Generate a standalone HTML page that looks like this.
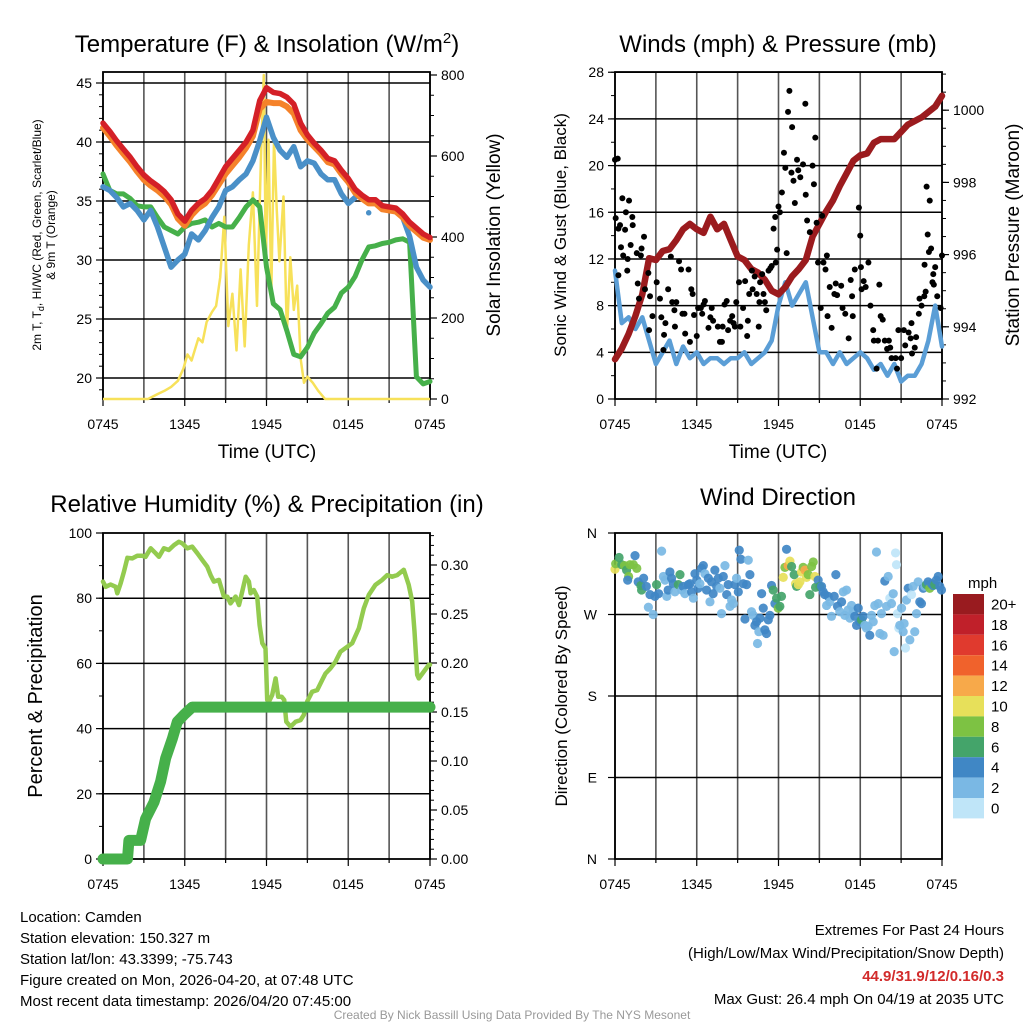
<!DOCTYPE html>
<html><head><meta charset="utf-8">
<style>
body{margin:0;background:#fff;}
svg{display:block;font-family:"Liberation Sans",Arial,sans-serif;}
</style></head>
<body>
<svg id="fig" width="1024" height="1024" viewBox="0 0 1024 1024" xmlns="http://www.w3.org/2000/svg">
<rect x="0" y="0" width="1024" height="1024" fill="#fff"/>
<text x="267" y="52" font-size="24" text-anchor="middle">Temperature (F) &amp; Insolation (W/m<tspan dy="-9" font-size="15">2</tspan><tspan dy="9">)</tspan></text>
<text x="778" y="52" font-size="24" text-anchor="middle">Winds (mph) &amp; Pressure (mb)</text>
<text x="267" y="512" font-size="24" text-anchor="middle">Relative Humidity (%) &amp; Precipitation (in)</text>
<text x="778" y="505" font-size="24" text-anchor="middle">Wind Direction</text>
<text x="267" y="458" font-size="19" text-anchor="middle">Time (UTC)</text>
<text x="778" y="458" font-size="19" text-anchor="middle">Time (UTC)</text>
<text transform="translate(41,235) rotate(-90)" font-size="12" text-anchor="middle">2m T, T<tspan dy="3" font-size="9">d</tspan><tspan dy="-3">, HI/WC (Red, Green, Scarlet/Blue)</tspan></text>
<text transform="translate(55,235) rotate(-90)" font-size="12" text-anchor="middle">&amp; 9m T (Orange)</text>
<text transform="translate(500,235) rotate(-90)" font-size="19" text-anchor="middle">Solar Insolation (Yellow)</text>
<text transform="translate(566,235) rotate(-90)" font-size="17" text-anchor="middle">Sonic Wind &amp; Gust (Blue, Black)</text>
<text transform="translate(1019,235) rotate(-90)" font-size="19" text-anchor="middle">Station Pressure (Maroon)</text>
<text transform="translate(42,696) rotate(-90)" font-size="20" text-anchor="middle">Percent &amp; Precipitation</text>
<text transform="translate(567,696) rotate(-90)" font-size="17" text-anchor="middle">Direction (Colored By Speed)</text>
<text x="968" y="588" font-size="15">mph</text>
<g font-size="15">
<text x="20" y="922">Location: Camden</text>
<text x="20" y="943">Station elevation: 150.327 m</text>
<text x="20" y="964">Station lat/lon: 43.3399; -75.743</text>
<text x="20" y="985">Figure created on Mon, 2026-04-20, at 07:48 UTC</text>
<text x="20" y="1006">Most recent data timestamp: 2026/04/20 07:45:00</text>
</g>
<g font-size="15" text-anchor="end">
<text x="1004" y="935">Extremes For Past 24 Hours</text>
<text x="1004" y="958">(High/Low/Max Wind/Precipitation/Snow Depth)</text>
<text x="1004" y="981" fill="#d22b2b" font-weight="bold">44.9/31.9/12/0.16/0.3</text>
<text x="1004" y="1004">Max Gust: 26.4 mph On 04/19 at 2035 UTC</text>
</g>
<text x="512" y="1019" font-size="12" fill="#999" text-anchor="middle">Created By Nick Bassill Using Data Provided By The NYS Mesonet</text>
</svg>
<script>
// ---- data (time in hours since 0745 UTC) ----
const halfHours = [0,0.5,1,1.5,2,2.5,3,3.5,4,4.5,5,5.5,6,6.5,7,7.5,8,8.5,9,9.5,10,10.5,11,11.5,12,12.5,13,13.5,14,14.5,15,15.5,16,16.5,17,17.5,18,18.5,19,19.5,20,20.5,21,21.5,22,22.5,23,23.5,24];
const tempRed = [41.6,40.9,40.1,39.4,38.7,37.9,37.2,36.7,36.3,35.8,35.1,33.9,33.3,34.2,34.8,35.2,35.9,36.9,37.9,38.6,39.3,40.0,41.0,43.5,44.6,44.2,44.1,43.8,43.2,41.6,40.6,39.9,39.3,38.6,38.4,37.6,36.9,36.0,35.5,35.1,35.1,34.6,34.5,34.4,33.9,33.2,32.7,32.2,31.9];
const temp9mOrange = [41.2,40.5,39.7,39.0,38.3,37.5,36.8,36.3,35.9,35.4,34.7,33.5,32.9,33.8,34.4,34.8,35.5,36.4,37.3,38.0,38.7,39.5,40.5,42.8,43.4,43.3,43.3,43.0,42.4,41.0,40.2,39.6,39.0,38.3,38.1,37.3,36.6,35.7,35.2,34.8,34.8,34.3,34.2,34.1,33.6,32.9,32.4,31.9,31.7];
const windChillBlue = [36.2,35.9,35.3,34.5,34.8,34.2,33.4,34.2,32.8,31.1,29.4,30.0,30.5,32.2,31.7,32.5,33.6,34.5,35.9,36.2,36.8,37.3,38.4,40.1,42.1,40.4,39.3,38.7,39.6,37.9,38.4,38.2,37.3,36.8,36.8,35.6,34.8,35.3,null,34.0,null,null,null,null,33.6,32.0,29.4,28.3,27.7];
const dewpointGreen = [37.3,35.9,35.6,35.6,35.2,34.6,34.5,34.5,33.6,32.8,32.5,32.2,32.8,33.1,33.2,33.4,32.8,33.1,32.8,32.8,33.6,34.5,35.1,34.5,29.4,26.3,25.8,24.0,22.0,21.8,22.6,23.8,24.6,25.5,26.0,27.2,27.7,28.6,30.0,31.1,31.2,31.4,31.5,31.7,31.8,31.5,20.1,19.5,19.7];
const solarTimes = [0,3.3,4,4.5,5,5.5,5.9,6.2,6.5,7,7.3,7.6,8,8.3,8.6,8.9,9.2,9.5,9.8,10.1,10.4,10.7,11,11.3,11.6,11.8,11.95,12.15,12.35,12.55,12.75,12.95,13.25,13.5,13.75,14.0,14.25,14.5,14.75,15,15.4,15.8,16.3,24];
const solarValues = [0,0,12,20,30,45,75,110,95,150,140,190,215,230,300,450,180,260,120,320,130,380,510,230,600,800,340,640,260,640,470,340,500,160,350,220,280,100,40,55,40,20,0,0];
const windSpeed = [11,6.5,7,6,7,5,3,4,5,3,4.5,3.5,4,3,3.5,3.5,3,3.5,3.5,4,3,3.5,4,5,8,10,8,9,10,7,4,4,3,4,3,3.5,4,3.5,2.5,3,2,3,1.5,2,2,3,5,8,4.5];
const pressure = [993.1,993.4,993.8,994.3,994.9,995.9,995.85,996.1,996.15,996.4,996.7,996.85,996.7,996.6,997.05,996.7,996.85,996.4,995.95,995.85,995.6,995.5,995.3,995.0,994.9,995.1,995.4,995.6,995.85,996.5,996.85,997.2,997.5,997.9,998.25,998.6,998.75,998.8,999.1,999.2,999.2,999.2,999.4,999.6,999.7,999.8,999.95,1000.1,1000.4];
const gustTimes = [0,0.2,0.05,0.25,0.37,0.54,0.74,0.8,1.03,1.27,1.3,0.25,0.44,0.6,0.93,0.9,1.15,1.6,1.9,1.95,2.13,1.67,1.76,2.2,2.45,2.57,2.75,2.5,3.06,3.3,3.4,3.55,3.6,3.7,3.9,4.1,4.2,4.36,4.4,4.5,4.7,4.85,4.95,5.1,5.15,5.4,5.5,5.6,5.7,5.8,6.0,6.1,6.3,6.4,6.5,6.6,6.86,7.0,7.1,7.2,7.55,7.7,7.85,7.9,8.04,8.2,8.3,8.45,8.6,8.7,8.8,8.9,9.1,9.2,9.4,9.55,9.7,9.75,9.85,10.05,10.1,10.25,10.4,10.55,10.6,10.65,10.8,10.9,11.0,11.1,11.27,11.4,11.5,11.64,11.76,11.8,11.9,12.0,12.1,12.25,12.4,12.5,12.6,12.7,12.8,13.0,12.95,13.1,13.2,13.36,13.45,13.6,13.8,13.97,14.0,14.1,14.3,14.5,14.6,14.7,14.8,14.9,15.2,15.1,15.3,15.45,15.55,15.6,15.76,15.9,16.1,16.2,16.3,16.6,16.7,16.9,17.15,17.3,17.4,17.45,17.6,17.9,18.0,18.05,18.1,18.25,18.4,18.6,18.75,18.95,19.0,19.2,19.3,19.4,19.5,19.65,19.8,19.97,20.1,20.2,20.3,20.6,20.7,20.8,21.0,21.2,21.3,21.55,21.7,21.76,21.8,22.0,22.1,22.3,22.35,22.5,22.7,22.72,22.8,22.87,22.95,23.04,23.1,23.2,23.3,23.36,23.4,23.5,23.65,23.9,24.0];
const gustValues = [20.5,20.6,15.5,14.6,14.9,17.2,14.5,16,17,15.6,14.9,10.6,13,12.3,12,11,13.2,12.5,12.3,12.9,13.9,9.9,8.6,9.4,10.8,8.8,7.1,5.9,10,8.6,7.0,4.2,5.5,6.5,9.4,12.2,8.3,7.6,6.2,8.3,11.8,11.1,7.3,7.3,5.6,11.1,4.9,9.4,9,7.2,5.4,7.8,7.8,7.3,8.1,8.4,6.1,7,7.8,6.7,6.2,4.9,4.9,6.2,8.1,8.4,5.9,6.7,7.1,6.5,6.2,8.3,10,6.2,7.8,10.1,5.4,6.7,9,11,9.4,10.5,9,6.2,8.3,10,10.7,9,8.3,7.6,11,11.2,11.4,14.6,15.6,11.7,12.8,16.5,16,17.7,21.1,19.8,12.5,24.6,26.4,23.3,19.4,18.7,16.8,20.5,19.6,19,20.1,25.3,17.5,15.3,14.3,20,18.4,22.4,15.1,11.7,15.7,7.8,11.7,11.1,12.3,7.1,9.6,6.1,9,9.9,8.9,9.7,7.8,7.3,5.2,10.2,8.8,7.1,11.1,16.4,14,11.3,9.4,10.1,9.6,11.7,8,5.9,5,2.6,5,9.8,7.1,6.8,5,4.3,5,4.4,3.5,3.5,2.6,5.9,3.5,5.9,4.6,5.7,5.2,6.5,3.9,4.4,5.3,7.3,8.6,8.0,8.8,11.5,9.2,18.2,14.1,12.6,17,12.9,10,10.7,9.8,11.3,8.8,7.8,12.3];
const rhTimes = [0,0.2,0.56,0.93,1.05,1.3,1.54,1.79,2.15,2.52,2.89,3.13,3.5,3.86,4.11,4.47,4.83,5.21,5.57,5.82,6.19,6.55,6.92,7.29,7.65,7.9,8.14,8.51,8.87,9.12,9.36,9.73,9.98,10.22,10.47,10.71,10.83,11.07,11.32,11.49,11.69,11.93,12.05,12.18,12.42,12.67,12.86,13.11,13.3,13.45,13.77,14.13,14.5,14.74,14.99,15.35,15.72,16.09,16.33,16.7,17.06,17.43,17.92,18.29,18.78,19.14,19.51,20,20.49,20.86,21.22,21.59,22.08,22.44,22.69,22.86,23.06,23.18,23.55,23.92,24];
const rhValues = [85.1,83.5,84.2,83.5,81.5,84.6,88.2,92.4,92.2,93,93,92.7,95.3,93.8,92.7,95.3,94.8,96.3,97.3,96.8,95.3,95.8,93.8,91.7,89.7,87.1,85.1,85.6,80.5,80.5,78.4,80.5,77.9,82,86.6,85.1,81.5,82.5,80.5,71.8,66.2,64.6,48.8,48.3,50.3,55.4,49.8,49.8,48.8,42.1,40.6,42.1,42.6,44.2,48.3,51.3,51.8,54.9,56.9,58.5,60.5,63.6,65.1,66.2,70.8,76.9,81,84.1,85.6,87.1,86.6,87.1,88.7,84.1,79,69.8,56.5,55.4,57.5,59.6,59.6];
const precipTimes = [0,1.8,1.9,2.76,3.13,3.74,4.23,4.6,5.09,5.45,5.94,6.55,24];
const precipValues = [0,0,0.019,0.019,0.041,0.058,0.079,0.103,0.123,0.140,0.147,0.155,0.155];
const dirTimes = [0,0.05,0.3,0.5,0.7,0.85,1.0,1.1,1.35,1.47,1.6,0.93,1.7,1.9,2.1,1.95,2.3,2.45,2.57,2.8,2.93,3.05,3.2,3.42,3.55,3.67,3.8,3.9,4.03,4.15,4.28,4.4,4.65,4.77,4.9,5.0,5.13,5.38,5.5,5.62,5.75,5.87,6.0,6.1,6.23,6.36,6.48,6.6,6.72,6.85,6.97,7.09,7.2,7.33,7.46,7.58,7.7,7.82,7.95,8.07,8.2,8.31,8.44,8.56,8.68,8.8,8.92,9.05,9.12,9.24,9.41,9.54,9.66,9.78,9.9,10.02,10.15,10.27,10.39,10.46,10.56,10.64,10.76,10.88,11.0,11.12,11.25,11.37,11.49,11.61,11.74,11.86,11.98,12.1,12.22,12.35,12.47,12.59,12.71,12.84,12.96,13.15,13.25,13.33,13.45,13.57,13.69,13.81,13.94,14.06,14.18,14.3,14.43,14.55,14.67,14.72,14.91,15.04,15.16,15.28,15.4,15.53,15.65,15.77,15.89,16.09,16.21,16.33,16.5,16.63,16.75,16.87,16.99,17.11,17.24,17.36,17.48,17.6,17.73,17.85,17.97,18.09,18.22,18.34,18.46,18.58,18.7,18.83,18.95,19.07,19.19,19.32,19.44,19.56,19.68,19.8,19.93,20.05,20.17,20.29,20.42,20.49,20.59,20.66,20.73,20.83,20.9,21.03,21.15,21.22,21.32,21.39,21.52,21.64,21.76,21.88,22.0,22.13,22.25,22.37,22.49,22.62,22.74,22.86,22.98,23.1,23.23,23.35,23.47,23.59,23.72,23.84,23.96];
const dirDegrees = [320,326,333,325,324,319,312,325,325,335,321,308,306,302,310,297,301,278,292,270,290,303,293,340,312,308,290,297,317,310,304,295,303,314,297,301,293,303,304,295,288,315,308,299,304,321,324,315,297,310,284,306,293,319,301,310,299,271,312,324,292,303,279,286,282,303,310,295,341,331,304,265,303,330,314,273,269,258,262,238,251,266,293,277,253,249,264,269,302,297,282,288,277,279,290,311,322,342,324,329,323,314,304,301,303,306,317,322,319,311,314,292,323,328,312,300,308,301,301,295,292,280,290,284,268,290,314,279,273,284,295,269,297,275,266,280,273,268,258,277,262,264,268,258,255,257,247,269,262,280,339,282,249,271,247,307,279,312,288,282,293,229,338,325,271,255,258,277,251,260,233,286,299,242,292,301,251,271,306,284,282,299,301,303,306,299,304,302,303,308,312,301,297];
const dirSpeeds = [11,9,7,7,9,7,9,9,9,5,9,5,5,7,5,7,5,3,5,3,5,7,5,3,3,3,3,5,5,5,5,3,7,7,3,5,3,5,5,5,3,5,5,5,3,5,5,3,5,5,3,5,5,5,5,5,3,3,5,3,5,5,3,3,3,5,3,5,5,5,5,5,5,3,5,3,3,5,5,3,3,5,5,5,5,5,5,5,5,7,5,7,9,7,7,11,9,5,13,11,7,7,11,7,11,11,11,9,13,11,9,7,9,9,11,7,5,7,5,5,5,3,5,3,3,5,5,5,3,5,3,3,3,3,3,3,3,5,5,5,5,7,5,3,3,3,5,3,3,3,3,3,3,3,3,5,3,3,1,3,3,3,1,1,1,1,3,3,3,3,1,3,5,3,1,3,3,3,3,5,5,5,3,7,5,9,5,5,7,5,5,5,5,5];
const speedBinLabels = ['0','2','4','6','8','10','12','14','16','18','20+'];
const speedColors = ['#bfe5f8','#7ab8e4','#4087c5','#44a46a','#7dc243','#e7e05a','#f7a94a','#f0622c','#e03a2e','#c0202a','#991b1f'];
const timeTickLabels = ['0745','1345','1945','0145','0745'];
const tempTicks = [20,25,30,35,40,45];
const solarTicks = [0,200,400,600,800];
const windTicks = [0,4,8,12,16,20,24,28];
const pressureTicks = [992,994,996,998,1000];
const rhTicks = [0,20,40,60,80,100];
const precipTicks = [0,0.05,0.10,0.15,0.20,0.25,0.30];
const dirTickLabels = ['N','E','S','W','N'];
const dirTickValues = [0,90,180,270,360];

// ---- scales ----
const NS='http://www.w3.org/2000/svg';
const svg=document.getElementById('fig');
const xL = t => 103 + t*327/24;
const xR = t => 615 + t*327/24;
const yTemp = v => 378 - (v-20)*11.8;
const ySolar = w => 399 - w*0.405;
const yWind = m => 399 - m*11.67;
const yPres = p => 399 - (p-992)*36.1;
const yRH = v => 859 - v*3.26;
const yPrecip = p => 859 - p*980;
const yDir = d => 859 - d*326/360;

function el(tag, attrs, parent){
  const e=document.createElementNS(NS,tag);
  for(const k in attrs) e.setAttribute(k,attrs[k]);
  (parent||svg).appendChild(e);
  return e;
}
function pathFrom(ts, vs, xf, yf){
  let d='', pen=false;
  for(let i=0;i<ts.length;i++){
    if(vs[i]===null){pen=false;continue;}
    const x=xf(ts[i]).toFixed(1), y=yf(vs[i]).toFixed(1);
    const nextNull = (i+1>=ts.length)||vs[i+1]===null;
    if(!pen){ d+='M'+x+' '+y+' '; if(nextNull) d+='L'+x+' '+y+' '; pen=true; }
    else d+='L'+x+' '+y+' ';
  }
  return d;
}

function panelFrame(x0,x1,y0,y1,hLines,name){
  const g=el('g',{});
  
  
  for(let h=0;h<=8;h++){
    const x=x0+h*(x1-x0)/8;
    el('line',{x1:x,x2:x,y1:y0,y2:y1,stroke:'#555','stroke-width':1.6},g);
  }
  hLines.forEach(y=>el('line',{x1:x0,x2:x1,y1:y,y2:y,stroke:'#000','stroke-width':1.5},g));
  const r=el('rect',{x:x0,y:y0,width:x1-x0,height:y1-y0,fill:'none',stroke:'#000','stroke-width':1.8});
  
  
  // bottom ticks & labels
  const tg=el('g',{'font-size':14,'text-anchor':'middle'});
  
  
  for(let h=0;h<=8;h++){
    const x=x0+h*(x1-x0)/8;
    el('line',{x1:x,x2:x,y1:y1,y2:y1+(h%2===0?7:4),stroke:'#000','stroke-width':1.2},tg);
  }
  timeTickLabels.forEach((lab,i)=>{
    const t=el('text',{x:x0+i*(x1-x0)/4,y:y1+30},tg);
    t.textContent=lab;
  });
}
function yAxis(x,side,ticks,yf,fmt,minorStep,lo,hi,name){
  const g=el('g',{'font-size':14,'text-anchor':side<0?'end':'start'});
  
  
  ticks.forEach(v=>{
    const y=yf(v);
    el('line',{x1:x,x2:x+side*7,y1:y,y2:y,stroke:'#000','stroke-width':1.2},g);
    const t=el('text',{x:x+side*11,y:y+5},g);
    t.textContent=fmt(v);
  });
  if(minorStep){
    for(let v=lo; v<=hi+1e-9; v+=minorStep){
      const y=yf(v);
      el('line',{x1:x,x2:x+side*4,y1:y,y2:y,stroke:'#000','stroke-width':1},g);
    }
  }
}

// ===== Panel 1 =====
panelFrame(103,430,72,399,tempTicks.map(yTemp),'temp-panel');
yAxis(103,-1,tempTicks,yTemp,v=>String(v),1,19,45,'temp-left-axis');
yAxis(430,1,solarTicks,ySolar,v=>String(v),50,0,800,'solar-right-axis');
let p;
p=el('path',{d:pathFrom(solarTimes,solarValues,xL,ySolar),fill:'none',stroke:'#f7e15a','stroke-width':2.5,'stroke-linejoin':'round'});


p=el('path',{d:pathFrom(halfHours,dewpointGreen,xL,yTemp),fill:'none',stroke:'#46b04a','stroke-width':5,'stroke-linejoin':'round','stroke-linecap':'round'});


p=el('path',{d:pathFrom(halfHours,windChillBlue,xL,yTemp),fill:'none',stroke:'#4a90c8','stroke-width':5.5,'stroke-linejoin':'round','stroke-linecap':'round'});


p=el('path',{d:pathFrom(halfHours,temp9mOrange,xL,yTemp),fill:'none',stroke:'#f5822a','stroke-width':6,'stroke-linejoin':'round','stroke-linecap':'round'});


p=el('path',{d:pathFrom(halfHours,tempRed,xL,yTemp),fill:'none',stroke:'#d42027','stroke-width':5.5,'stroke-linejoin':'round','stroke-linecap':'round'});



// ===== Panel 2 =====
panelFrame(615,942,72,399,windTicks.slice(1).map(yWind),'wind-panel');
yAxis(615,-1,windTicks,yWind,v=>String(v),2,0,28,'wind-left-axis');
yAxis(942,1,pressureTicks,yPres,v=>String(v),0.5,992,1001,'pressure-right-axis');
p=el('path',{d:pathFrom(halfHours,windSpeed,xR,yWind),fill:'none',stroke:'#5b9ed6','stroke-width':4.5,'stroke-linejoin':'round','stroke-linecap':'round'});


p=el('path',{d:pathFrom(halfHours,pressure,xR,yPres),fill:'none',stroke:'#9b1b1e','stroke-width':6.5,'stroke-linejoin':'round','stroke-linecap':'round'});


const gg=el('g',{fill:'#000'});


for(let i=0;i<gustTimes.length;i++){
  const c=el('circle',{cx:xR(gustTimes[i]),cy:yWind(gustValues[i]),r:3},gg);
  
  
}

// ===== Panel 3 =====
panelFrame(103,430,533,859,[20,40,60,80].map(yRH),'rh-panel');
yAxis(103,-1,rhTicks,yRH,v=>String(v),10,0,100,'rh-left-axis');
yAxis(430,1,precipTicks,yPrecip,v=>v.toFixed(2),0.01,0,0.33,'precip-right-axis');
p=el('path',{d:pathFrom(rhTimes,rhValues,xL,yRH),fill:'none',stroke:'#93cb4f','stroke-width':4.5,'stroke-linejoin':'round','stroke-linecap':'round'});


p=el('path',{d:pathFrom(precipTimes,precipValues,xL,yPrecip),fill:'none',stroke:'#46b04a','stroke-width':11,'stroke-linejoin':'round','stroke-linecap':'round'});



// ===== Panel 4 =====
panelFrame(615,942,533,859,[90,180,270].map(yDir),'direction-panel');
const dg=el('g',{'font-size':14,'text-anchor':'end'});


dirTickValues.forEach((v,i)=>{
  const y=yDir(v);
  el('line',{x1:615,x2:608,y1:y,y2:y,stroke:'#000','stroke-width':1.2},dg);
  const t=el('text',{x:597,y:y+5},dg);
  t.textContent=dirTickLabels[i];
});
const pg=el('g',{});


for(let i=0;i<dirTimes.length;i++){
  const bin=Math.min(10,Math.floor(dirSpeeds[i]/2));
  const c=el('circle',{cx:xR(dirTimes[i]),cy:yDir(dirDegrees[i]),r:4.6,fill:speedColors[bin],'fill-opacity':0.92},pg);
  
  
}
// colorbar
const cb=el('g',{'font-size':15});


for(let i=0;i<11;i++){
  const k=10-i;
  const y=594+i*20.4;
  const r=el('rect',{x:953,y:y,width:31,height:20.4,fill:speedColors[k]},cb);
  
  
  const t=el('text',{x:991,y:y+15.5},cb);
  t.textContent=speedBinLabels[k];
}
</script>
</body></html>
